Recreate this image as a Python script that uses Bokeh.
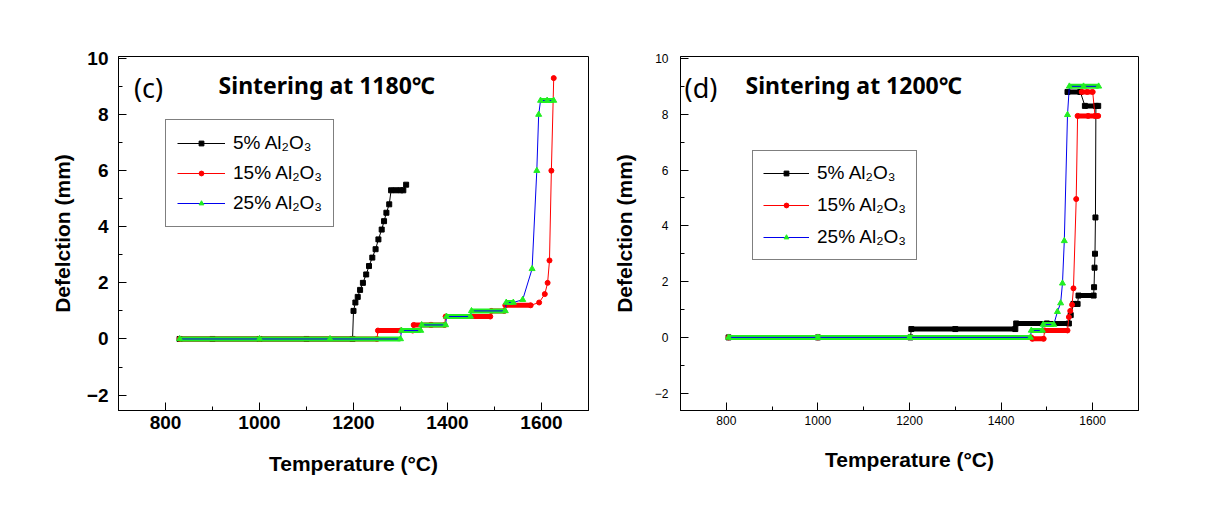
from bokeh.plotting import figure
from bokeh.layouts import row
from bokeh.models import Range1d, FixedTicker, Legend, LegendItem, Label, ColumnDataSource
from bokeh.embed import file_html
from bokeh.resources import INLINE

# ---------------- data: panel (c) sintering at 1180 C ----------------
T5c = [830, 900, 1000, 1100, 1198, 1200, 1204, 1209, 1214, 1220, 1227, 1233, 1240, 1247,
       1253, 1260, 1265, 1270, 1276, 1280, 1290, 1300, 1306, 1312]
D5c = [0, 0, 0, 0, 0, 1.0, 1.3, 1.5, 1.75, 2.0, 2.3, 2.6, 2.9, 3.2,
       3.55, 3.9, 4.2, 4.5, 4.8, 5.3, 5.3, 5.3, 5.3, 5.5]

T15c = [830, 1000, 1250, 1252, 1300, 1326, 1328, 1364, 1366, 1394, 1396, 1491, 1493, 1521,
        1523, 1577, 1595, 1607, 1613, 1617, 1621, 1626]
D15c = [0, 0, 0, 0.3, 0.3, 0.3, 0.5, 0.5, 0.5, 0.5, 0.8, 0.8, 1.0, 1.0,
        1.2, 1.2, 1.3, 1.6, 2.0, 2.8, 6.0, 9.3]

T25c = [830, 1000, 1150, 1300, 1302, 1343, 1345, 1396, 1398, 1449, 1451, 1523, 1525, 1540,
        1560, 1580, 1590, 1594, 1598, 1612, 1626]
D25c = [0, 0, 0, 0, 0.3, 0.3, 0.5, 0.5, 0.8, 0.8, 1.0, 1.0, 1.3, 1.3,
        1.4, 2.5, 6.0, 8.0, 8.5, 8.5, 8.5]

# ---------------- data: panel (d) sintering at 1200 C ----------------
T5d = [805, 1000, 1202, 1204, 1300, 1431, 1433, 1500, 1548, 1552, 1558, 1567, 1569, 1602,
       1603, 1604, 1605, 1606, 1607, 1612, 1583, 1573, 1545]
D5d = [0, 0, 0, 0.3, 0.3, 0.3, 0.5, 0.5, 0.5, 0.8, 1.2, 1.2, 1.5, 1.5,
       1.8, 2.5, 3.0, 4.3, 8.3, 8.3, 8.3, 8.8, 8.8]

T15d = [805, 1000, 1466, 1468, 1493, 1495, 1545, 1548, 1551, 1555, 1558, 1564, 1567, 1590,
        1612, 1605, 1600, 1588, 1576]
D15d = [0, 0, 0, -0.05, -0.05, 0.25, 0.25, 0.73, 0.95, 1.17, 1.76, 4.96, 7.94, 7.94,
        7.94, 7.94, 8.8, 8.8, 8.8]

T25d = [805, 1000, 1200, 1464, 1466, 1490, 1492, 1515, 1523, 1530, 1534, 1538, 1545, 1549,
        1580, 1613]
D25d = [0, 0, 0, 0, 0.25, 0.25, 0.46, 0.46, 0.92, 1.23, 1.94, 3.46, 7.98, 9.0,
        9.0, 9.0]

series_labels = ["5% Al\u2082O\u2083", "15% Al\u2082O\u2083", "25% Al\u2082O\u2083"]
x_ticks = [800, 1000, 1200, 1400, 1600]
y_ticks = [-2, 0, 2, 4, 6, 8, 10]

FONT = "Liberation Sans"


def plateaus(xs, ys):
    x0, y0, x1, y1 = [], [], [], []
    for i in range(len(xs) - 1):
        if ys[i] == ys[i + 1]:
            x0.append(xs[i]); y0.append(ys[i]); x1.append(xs[i + 1]); y1.append(ys[i + 1])
    return dict(x0=x0, y0=y0, x1=x1, y1=y1)


def panel(width, height, borders, yr, data, tick_size, tick_bold, tag, title, tag_pos, title_pos,
          legend_loc, leg_font, leg_h, leg_sp, leg_pad, leg_gw, xlab_sd, ylab_sd):
    bl, br, bt, bb = borders
    p = figure(width=width, height=height, output_backend="svg", toolbar_location=None,
               x_range=Range1d(700, 1700), y_range=Range1d(*yr),
               min_border_left=bl, min_border_right=br, min_border_top=bt, min_border_bottom=bb)
    p.background_fill_color = "white"
    p.border_fill_color = "white"
    p.outline_line_color = "black"
    p.outline_line_width = 1
    p.grid.visible = False
    p.xaxis.ticker = FixedTicker(ticks=x_ticks, minor_ticks=[700, 900, 1100, 1300, 1500, 1700])
    p.yaxis.ticker = FixedTicker(ticks=y_ticks, minor_ticks=[-1, 1, 3, 5, 7, 9])
    for ax in (p.xaxis[0], p.yaxis[0]):
        ax.axis_line_color = "black"
        ax.major_tick_in = 8
        ax.major_tick_out = 0
        ax.minor_tick_in = 4
        ax.minor_tick_out = 0
        ax.major_tick_line_color = "black"
        ax.minor_tick_line_color = "black"
        ax.major_label_text_font = FONT
        ax.major_label_text_font_size = tick_size
        ax.major_label_text_font_style = "bold" if tick_bold else "normal"
        ax.major_label_text_color = "black"
        ax.axis_label_text_font = FONT
        ax.axis_label_text_font_size = "21px"
        ax.axis_label_text_font_style = "bold"
        ax.axis_label_text_color = "black"
    p.xaxis.axis_label = "Temperature (\u00b0C)"
    p.yaxis.axis_label = "Defelction (mm)"
    p.xaxis.major_label_standoff = 5
    p.yaxis.major_label_standoff = 10 if tick_bold else 12
    p.xaxis.axis_label_standoff = xlab_sd
    p.yaxis.axis_label_standoff = ylab_sd

    styles = [
        dict(line="black", mk="black", marker="square", size=5),
        dict(line="red", mk="red", marker="circle", size=5),
        dict(line="#0000ee", mk="#22ee22", marker="triangle", size=6),
    ]
    items = []
    for (xs, ys), st, lab in zip(data, styles, series_labels):
        seg = plateaus(xs, ys)
        p.segment(x0="x0", y0="y0", x1="x1", y1="y1", source=ColumnDataSource(seg),
                  line_color=st["mk"], line_width=5)
        ln = p.line(xs, ys, line_color=st["line"], line_width=1)
        sc = p.scatter(xs, ys, marker=st["marker"], size=st["size"],
                       fill_color=st["mk"], line_color=st["mk"])
        items.append(LegendItem(label=lab, renderers=[ln, sc]))

    leg = Legend(items=items, location=legend_loc)
    leg.label_text_font = FONT
    leg.label_text_font_size = leg_font
    leg.label_text_color = "black"
    leg.glyph_width = leg_gw
    leg.glyph_height = 12
    leg.label_height = leg_h
    leg.spacing = leg_sp
    leg.padding = leg_pad
    leg.margin = 0
    leg.label_standoff = 8
    leg.border_line_color = "black"
    leg.border_line_width = 1
    leg.background_fill_alpha = 1
    p.add_layout(leg, "center")

    p.add_layout(Label(x=tag_pos[0], y=tag_pos[1], text=tag, text_font="Noto Sans",
                       text_font_size="27px", text_baseline="middle", text_color="black"))
    p.add_layout(Label(x=title_pos[0], y=title_pos[1], text=title, text_font="Noto Sans",
                       text_font_size="23px", text_baseline="middle", text_color="black",
                       text_font_style="bold"))
    return p


pc = panel(600, 512, (118, 12, 56, 102), (-2.55, 10.07),
           [(T5c, D5c), (T15c, D15c), (T25c, D25c)], "19px", True,
           "(c)", "Sintering at 1180\u2103", (733, 8.95), (913, 9.04), (47, 183), "19px",
           24, 6, 11, 48, 20, 10)
pd_ = panel(611, 512, (80, 73, 56, 99), (-2.62, 10.07),
            [(T5d, D5d), (T15d, D15d), (T25d, D25d)], "12px", False,
            "(d)", "Sintering at 1200\u2103", (709, 8.95), (842, 9.04), (72, 150), "19px",
            24, 8, 10, 46, 20, 16)

layout = row(pc, pd_)
open("out.html", "w").write(file_html(layout, INLINE))
